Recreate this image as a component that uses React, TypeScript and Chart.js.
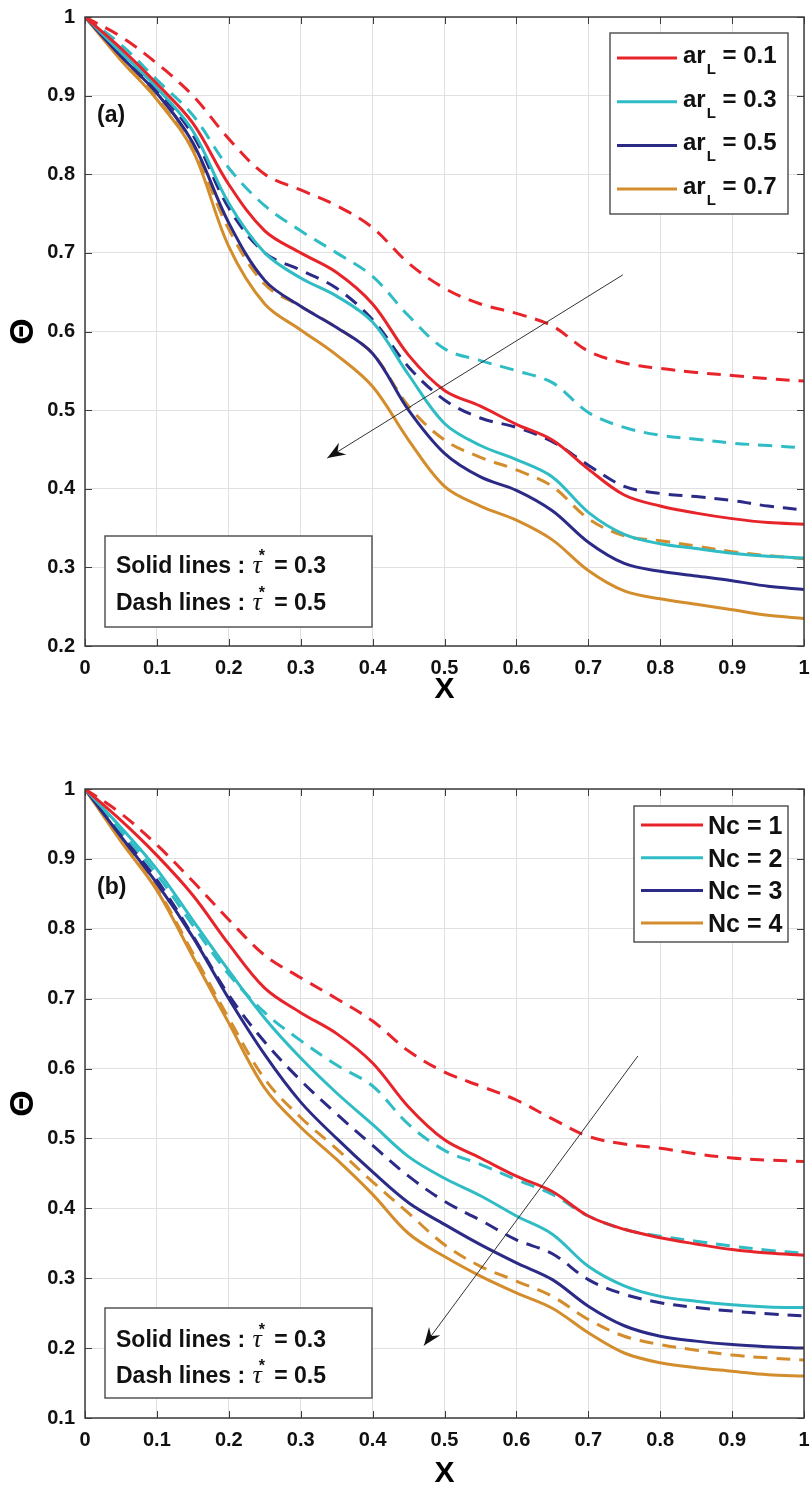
import React, { useEffect, useRef } from 'react';
import { Chart, registerables } from 'chart.js';

Chart.register(...registerables);

// ---------------- data ----------------
const X_VALUES = [0, 0.05, 0.1, 0.15, 0.2, 0.25, 0.3, 0.35, 0.4, 0.45, 0.5, 0.55, 0.6, 0.65, 0.7, 0.75, 0.8, 0.85, 0.9, 0.95, 1];
const X_TICKS = [0, 0.1, 0.2, 0.3, 0.4, 0.5, 0.6, 0.7, 0.8, 0.9, 1];
const Y_TICKS_A = [0.2, 0.3, 0.4, 0.5, 0.6, 0.7, 0.8, 0.9, 1];
const Y_TICKS_B = [0.1, 0.2, 0.3, 0.4, 0.5, 0.6, 0.7, 0.8, 0.9, 1];

// Panel (a): ar_L series, solid tau*=0.3, dashed tau*=0.5
const A_AR01_SOLID = [1, 0.96, 0.915, 0.865, 0.787, 0.728, 0.70, 0.675, 0.635, 0.57, 0.525, 0.505, 0.482, 0.462, 0.425, 0.392, 0.378, 0.369, 0.362, 0.357, 0.355];
const A_AR03_SOLID = [1, 0.955, 0.91, 0.855, 0.763, 0.70, 0.668, 0.645, 0.612, 0.545, 0.483, 0.455, 0.437, 0.415, 0.37, 0.342, 0.33, 0.324, 0.318, 0.314, 0.312];
const A_AR05_SOLID = [1, 0.95, 0.903, 0.84, 0.738, 0.665, 0.632, 0.605, 0.572, 0.50, 0.445, 0.415, 0.398, 0.372, 0.332, 0.305, 0.295, 0.289, 0.283, 0.276, 0.272];
const A_AR07_SOLID = [1, 0.945, 0.895, 0.83, 0.708, 0.635, 0.602, 0.57, 0.53, 0.462, 0.403, 0.378, 0.36, 0.335, 0.296, 0.27, 0.26, 0.253, 0.246, 0.239, 0.235];
const A_AR01_DASH = [1, 0.975, 0.941, 0.9, 0.845, 0.80, 0.78, 0.76, 0.732, 0.687, 0.655, 0.635, 0.623, 0.607, 0.575, 0.56, 0.553, 0.548, 0.544, 0.54, 0.537];
const A_AR03_DASH = [1, 0.965, 0.92, 0.875, 0.808, 0.76, 0.728, 0.70, 0.67, 0.62, 0.578, 0.563, 0.55, 0.535, 0.497, 0.478, 0.468, 0.463, 0.458, 0.455, 0.452];
const A_AR05_DASH = [1, 0.955, 0.907, 0.85, 0.757, 0.70, 0.678, 0.655, 0.615, 0.555, 0.513, 0.49, 0.478, 0.46, 0.43, 0.403, 0.394, 0.39, 0.385, 0.378, 0.373];
const A_AR07_DASH = [1, 0.95, 0.897, 0.833, 0.73, 0.66, 0.632, 0.605, 0.572, 0.505, 0.462, 0.44, 0.424, 0.403, 0.362, 0.34, 0.334, 0.327, 0.32, 0.315, 0.311];

// Panel (b): Nc series
const B_NC1_SOLID = [1, 0.955, 0.905, 0.848, 0.778, 0.715, 0.68, 0.65, 0.608, 0.545, 0.498, 0.472, 0.446, 0.424, 0.389, 0.37, 0.358, 0.349, 0.341, 0.336, 0.333];
const B_NC2_SOLID = [1, 0.945, 0.885, 0.812, 0.74, 0.672, 0.615, 0.565, 0.52, 0.474, 0.443, 0.418, 0.389, 0.363, 0.317, 0.289, 0.274, 0.267, 0.262, 0.259, 0.258];
const B_NC3_SOLID = [1, 0.932, 0.865, 0.788, 0.70, 0.62, 0.552, 0.50, 0.452, 0.408, 0.377, 0.348, 0.322, 0.298, 0.26, 0.232, 0.217, 0.21, 0.205, 0.202, 0.2];
const B_NC4_SOLID = [1, 0.925, 0.855, 0.76, 0.665, 0.572, 0.516, 0.47, 0.42, 0.364, 0.331, 0.303, 0.279, 0.257, 0.222, 0.193, 0.179, 0.172, 0.167, 0.162, 0.16];
const B_NC1_DASH = [1, 0.965, 0.92, 0.868, 0.813, 0.762, 0.73, 0.70, 0.668, 0.625, 0.595, 0.575, 0.555, 0.528, 0.503, 0.492, 0.486, 0.478, 0.472, 0.469, 0.467];
const B_NC2_DASH = [1, 0.94, 0.878, 0.805, 0.735, 0.68, 0.64, 0.605, 0.575, 0.52, 0.483, 0.463, 0.441, 0.42, 0.389, 0.37, 0.36, 0.353, 0.346, 0.34, 0.336];
const B_NC3_DASH = [1, 0.935, 0.87, 0.79, 0.705, 0.638, 0.583, 0.535, 0.49, 0.446, 0.41, 0.383, 0.355, 0.335, 0.298, 0.277, 0.265, 0.258, 0.253, 0.249, 0.246];
const B_NC4_DASH = [1, 0.928, 0.858, 0.765, 0.672, 0.585, 0.53, 0.485, 0.438, 0.393, 0.348, 0.317, 0.296, 0.274, 0.241, 0.217, 0.205, 0.197, 0.19, 0.186, 0.183];

const LEGEND_A_VALUES = ['0.1', '0.3', '0.5', '0.7'];
const LEGEND_B_LABELS = ['Nc = 1', 'Nc = 2', 'Nc = 3', 'Nc = 4'];
const NOTE_LABELS = ['Solid lines :', 'Dash lines :'];
const NOTE_VALUES = ['0.3', '0.5'];

// arrows (data coords): [xStart, yStart, xTip, yTip]
const ARROW_A = [0.748, 0.672, 0.337, 0.439];
const ARROW_B = [0.769, 0.618, 0.4715, 0.2036];

// ---------------- styles ----------------
const FONT = "'Liberation Sans', Arial, Helvetica, sans-serif";
const RED = '#e8242b';
const CYAN = '#30bcc4';
const NAVY = '#2b2a87';
const ORANGE = '#d38d2c';
const COLORS = [RED, CYAN, NAVY, ORANGE];
const GRID = '#e0e0e0';
const AXIS = '#3c3c3c';

function fmt(v: number) {
  return String(Number(Number(v).toFixed(1)));
}

function makeDatasets(solids: number[][], dashes: number[][]) {
  const ds: any[] = [];
  const base = { borderWidth: 3, pointRadius: 0, fill: false, tension: 0.35 };
  solids.forEach((vals, i) => {
    ds.push({ ...base, data: X_VALUES.map((x, k) => ({ x, y: vals[k] })), borderColor: COLORS[i] });
  });
  dashes.forEach((vals, i) => {
    ds.push({ ...base, data: X_VALUES.map((x, k) => ({ x, y: vals[k] })), borderColor: COLORS[i], borderDash: [14, 9] });
  });
  return ds;
}

function makeDecor(cfg: any) {
  return {
    id: 'decor',
    afterDraw(chart: any) {
      const { ctx, chartArea: ca } = chart;
      const xs = chart.scales.x;
      const ys = chart.scales.y;
      ctx.save();

      // inward tick marks
      ctx.strokeStyle = AXIS;
      ctx.lineWidth = 1;
      ctx.beginPath();
      xs.ticks.forEach((t: any) => {
        const p = Math.round(xs.getPixelForValue(t.value)) + 0.5;
        ctx.moveTo(p, ca.top);
        ctx.lineTo(p, ca.top + 7);
        ctx.moveTo(p, ca.bottom);
        ctx.lineTo(p, ca.bottom - 7);
      });
      ys.ticks.forEach((t: any) => {
        const p = Math.round(ys.getPixelForValue(t.value)) + 0.5;
        ctx.moveTo(ca.left, p);
        ctx.lineTo(ca.left + 7, p);
        ctx.moveTo(ca.right, p);
        ctx.lineTo(ca.right - 7, p);
      });
      ctx.stroke();

      // axes box
      ctx.lineWidth = 1.5;
      ctx.strokeRect(ca.left, ca.top, ca.width, ca.height);

      // arrow
      const [x0, y0, x1, y1] = cfg.arrow;
      const sx = xs.getPixelForValue(x0), sy = ys.getPixelForValue(y0);
      const tx = xs.getPixelForValue(x1), ty = ys.getPixelForValue(y1);
      ctx.strokeStyle = '#333';
      ctx.lineWidth = 1;
      ctx.beginPath();
      ctx.moveTo(sx, sy);
      ctx.lineTo(tx, ty);
      ctx.stroke();
      const ang = Math.atan2(ty - sy, tx - sx);
      const L = 18, W = 7, N = 12;
      const ux = Math.cos(ang), uy = Math.sin(ang);
      const px = -uy, py = ux;
      ctx.fillStyle = '#111';
      ctx.beginPath();
      ctx.moveTo(tx, ty);
      ctx.lineTo(tx - ux * L + px * W, ty - uy * L + py * W);
      ctx.lineTo(tx - ux * N, ty - uy * N);
      ctx.lineTo(tx - ux * L - px * W, ty - uy * L - py * W);
      ctx.closePath();
      ctx.fill();

      // panel label
      ctx.fillStyle = '#111';
      ctx.font = `bold 23px ${FONT}`;
      ctx.textBaseline = 'alphabetic';
      ctx.textAlign = 'left';
      ctx.fillText(cfg.panelLabel, ca.left + 12, ca.top + 105);

      // legend box
      const lg = cfg.legend;
      const bx = ca.right - 16 - lg.width;
      const by = ca.top + lg.topInset;
      ctx.fillStyle = '#fff';
      ctx.fillRect(bx, by, lg.width, lg.height);
      ctx.strokeStyle = '#555';
      ctx.lineWidth = 1.5;
      ctx.strokeRect(bx, by, lg.width, lg.height);
      COLORS.forEach((c, i) => {
        const ly = by + lg.rowStart + i * lg.rowGap;
        ctx.strokeStyle = c;
        ctx.lineWidth = 3;
        ctx.beginPath();
        ctx.moveTo(bx + 7, ly);
        ctx.lineTo(bx + 7 + lg.lineLen, ly);
        ctx.stroke();
        ctx.fillStyle = '#111';
        const tx0 = bx + 7 + lg.lineLen + lg.textGap;
        const base = ly + lg.baseOff;
        if (cfg.legendKind === 'ar') {
          ctx.font = `bold ${lg.font}px ${FONT}`;
          ctx.fillText('ar', tx0, base);
          const w1 = ctx.measureText('ar').width;
          ctx.font = `bold 15px ${FONT}`;
          ctx.fillText('L', tx0 + w1 + 1, base + 11);
          const w2 = ctx.measureText('L').width;
          ctx.font = `bold ${lg.font}px ${FONT}`;
          ctx.fillText(' = ' + LEGEND_A_VALUES[i], tx0 + w1 + 1 + w2, base);
        } else {
          ctx.font = `bold ${lg.font}px ${FONT}`;
          ctx.fillText(LEGEND_B_LABELS[i], tx0, base);
        }
      });

      // note box
      const nt = cfg.note;
      const nx = ca.left + 20;
      const ny = ca.bottom - nt.bottomInset - nt.height;
      ctx.fillStyle = '#fff';
      ctx.fillRect(nx, ny, 267, nt.height);
      ctx.strokeStyle = '#555';
      ctx.lineWidth = 1.5;
      ctx.strokeRect(nx, ny, 267, nt.height);
      NOTE_LABELS.forEach((lab, i) => {
        const base = ny + nt.rows[i];
        let x = nx + 11;
        ctx.fillStyle = '#111';
        ctx.font = `bold 23px ${FONT}`;
        ctx.fillText(lab, x, base);
        x += ctx.measureText(lab + ' ').width + 1;
        ctx.font = `italic 26px 'Liberation Serif', 'DejaVu Serif', serif`;
        ctx.fillText('τ', x, base);
        const tw = ctx.measureText('τ').width;
        ctx.font = `bold 16px ${FONT}`;
        ctx.fillText('*', x + tw - 3, base - 12);
        x += tw + 6;
        ctx.font = `bold 23px ${FONT}`;
        ctx.fillText(' = ' + NOTE_VALUES[i], x, base);
      });

      ctx.restore();
    },
  };
}

const PANELS = [
  {
    key: 'a',
    height: 740,
    padTop: 17,
    xAxisHeight: 94,
    xTitlePad: 32,
    yMin: 0.2,
    yTicks: Y_TICKS_A,
    solids: [A_AR01_SOLID, A_AR03_SOLID, A_AR05_SOLID, A_AR07_SOLID],
    dashes: [A_AR01_DASH, A_AR03_DASH, A_AR05_DASH, A_AR07_DASH],
    decor: {
      arrow: ARROW_A,
      panelLabel: '(a)',
      legendKind: 'ar',
      legend: { width: 178, height: 181, topInset: 16, rowStart: 25, rowGap: 43.7, lineLen: 60, textGap: 6, font: 24, baseOff: 5 },
      note: { height: 91, bottomInset: 19, rows: [37, 74] },
    },
  },
  {
    key: 'b',
    height: 752,
    padTop: 49,
    xAxisHeight: 74,
    xTitlePad: 0,
    yMin: 0.1,
    yTicks: Y_TICKS_B,
    solids: [B_NC1_SOLID, B_NC2_SOLID, B_NC3_SOLID, B_NC4_SOLID],
    dashes: [B_NC1_DASH, B_NC2_DASH, B_NC3_DASH, B_NC4_DASH],
    decor: {
      arrow: ARROW_B,
      panelLabel: '(b)',
      legendKind: 'nc',
      legend: { width: 154, height: 136, topInset: 17, rowStart: 19, rowGap: 32.7, lineLen: 62, textGap: 5, font: 25, baseOff: 9 },
      note: { height: 90, bottomInset: 20, rows: [39, 75] },
    },
  },
];

function Panel({ p }: { p: any }) {
  const ref = useRef<HTMLCanvasElement>(null);
  useEffect(() => {
    if (!ref.current) return;
    const chart = new Chart(ref.current, {
      type: 'line',
      data: { datasets: makeDatasets(p.solids, p.dashes) },
      plugins: [makeDecor(p.decor)],
      options: {
        animation: false,
        responsive: false,
        maintainAspectRatio: false,
        layout: { padding: { top: p.padTop, right: 6, bottom: 0, left: 0 } },
        plugins: { legend: { display: false }, tooltip: { enabled: false } },
        elements: { line: { borderCapStyle: 'butt' } },
        scales: {
          x: {
            type: 'linear',
            min: 0,
            max: 1,
            afterBuildTicks: (s: any) => { s.ticks = X_TICKS.map((value) => ({ value })); },
            afterFit: (s: any) => {
              s.height = p.xAxisHeight;
              s.paddingLeft = 0;
              s.paddingRight = 0;
            },
            grid: { color: GRID, lineWidth: 1, drawTicks: false },
            border: { display: false },
            ticks: {
              font: { family: FONT, size: 20, weight: 'bold' },
              color: '#111',
              padding: 10,
              maxRotation: 0,
              autoSkip: false,
              callback: (v: any) => fmt(v),
            },
            title: {
              display: true,
              text: 'X',
              color: '#000',
              font: { family: FONT, size: 30, weight: 'bold' },
              padding: { top: 0, bottom: p.xTitlePad },
            },
          },
          y: {
            type: 'linear',
            min: p.yMin,
            max: 1,
            afterBuildTicks: (s: any) => { s.ticks = p.yTicks.map((value: number) => ({ value })); },
            afterFit: (s: any) => {
              s.width = 85;
              s.paddingTop = 0;
              s.paddingBottom = 0;
            },
            grid: { color: GRID, lineWidth: 1, drawTicks: false },
            border: { display: false },
            ticks: {
              font: { family: FONT, size: 20, weight: 'bold' },
              color: '#111',
              padding: 10,
              autoSkip: false,
              callback: (v: any) => fmt(v),
            },
            title: {
              display: true,
              text: 'Θ',
              color: '#000',
              font: { family: FONT, size: 34, weight: 'bold' },
              padding: { top: 3, bottom: 0 },
            },
          },
        },
      } as any,
    });
    return () => chart.destroy();
  }, []);
  return (
    <canvas
      ref={ref}
      width={810}
      height={p.height}
      style={{ display: 'block', width: 810, height: p.height }}
    />
  );
}

export default function App() {
  return (
    <div style={{ position: 'absolute', left: 0, top: 0, width: 810, height: 1492, background: '#fff' }}>
      {PANELS.map((p) => (
        <Panel key={p.key} p={p} />
      ))}
    </div>
  );
}
